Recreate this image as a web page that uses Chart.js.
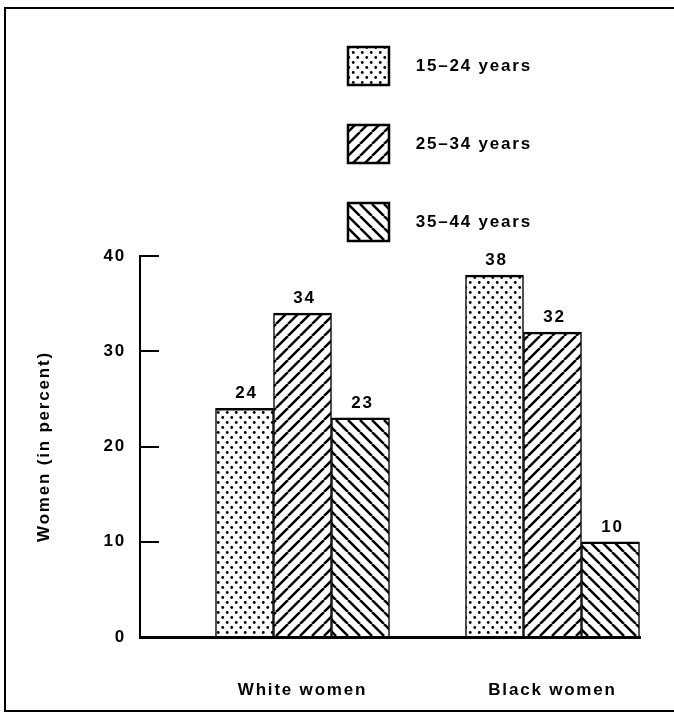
<!DOCTYPE html>
<html>
<head>
<meta charset="utf-8">
<script src="https://cdn.jsdelivr.net/npm/chart.js@4/dist/chart.umd.min.js"></script>
<style>
  html, body { margin: 0; padding: 0; background: #fff; }
  #wrap { width: 674px; height: 713px; }
</style>
</head>
<body>
<div id="wrap"><canvas id="c" width="674" height="713"></canvas></div>
<script>
// ---- data ----
const categories = ['White women', 'Black women'];
const seriesLabels = ['15\u201324 years', '25\u201334 years', '35\u201344 years'];
const ages15to24 = [24, 38];
const ages25to34 = [34, 32];
const ages35to44 = [23, 10];
const yTicks = [0, 10, 20, 30, 40];
const yTitle = 'Women (in percent)';

// ---- patterns ----
const canvas = document.getElementById('c');
const mainCtx = canvas.getContext('2d');

function dotPattern() {
  const w = 9, h = 10;
  const t = document.createElement('canvas');
  t.width = w; t.height = h;
  const x = t.getContext('2d');
  x.fillStyle = '#fff'; x.fillRect(0, 0, w, h);
  x.fillStyle = '#000';
  [[2.25, 2.5], [6.75, 7.5]].forEach(([a, b]) => { x.beginPath(); x.arc(a, b, 1.4, 0, Math.PI * 2); x.fill(); });
  return mainCtx.createPattern(t, 'repeat');
}
function hatchPattern(forward) {
  const s = 12;
  const t = document.createElement('canvas');
  t.width = s; t.height = s;
  const x = t.getContext('2d');
  x.fillStyle = '#fff'; x.fillRect(0, 0, s, s);
  x.strokeStyle = '#000'; x.lineWidth = 2.5;
  x.beginPath();
  for (const k of [-s, 0, s]) {
    if (forward) { x.moveTo(k, s); x.lineTo(k + s, 0); }
    else { x.moveTo(k, 0); x.lineTo(k + s, s); }
  }
  x.stroke();
  return mainCtx.createPattern(t, 'repeat');
}
const fills = [dotPattern(), hatchPattern(true), hatchPattern(false)];
const seriesValues = [ages15to24, ages25to34, ages35to44];

const LS = '1.8px';
function setSpacing(chart) { if ('letterSpacing' in chart.ctx) chart.ctx.letterSpacing = LS; }

const frame = {
  id: 'frame',
  beforeUpdate(chart) { setSpacing(chart); },
  beforeLayout(chart) { setSpacing(chart); },
  beforeDraw(chart) {
    setSpacing(chart);
    const c = chart.ctx;
    c.save();
    c.fillStyle = '#fff'; c.fillRect(0, 0, chart.width, chart.height);
    c.strokeStyle = '#000'; c.lineWidth = 2;
    c.beginPath();
    c.moveTo(674, 8); c.lineTo(5, 8); c.lineTo(5, 711); c.lineTo(674, 711);
    c.stroke();
    c.restore();
  }
};

const legendPlacer = {
  id: 'legendPlacer',
  afterLayout(chart) {
    const lg = chart.legend; if (!lg) return;
    const pad = lg.options.labels.padding;
    lg.left = 348 - pad; lg.top = 47 - pad; lg.right = 532; lg.bottom = 713;
    lg.width = lg.right - lg.left; lg.height = lg.bottom - lg.top;
  }
};

const FONT = '"Liberation Sans", Arial, sans-serif';
const FS = 17;

const valueLabels = {
  id: 'valueLabels',
  afterDatasetsDraw(chart) {
    const c = chart.ctx;
    c.save();
    c.font = 'bold ' + FS + 'px ' + FONT;
    c.fillStyle = '#000'; c.textAlign = 'center'; c.textBaseline = 'alphabetic';
    chart.data.datasets.forEach((ds, di) => {
      chart.getDatasetMeta(di).data.forEach((el, i) => {
        c.fillText(String(ds.data[i].y), el.x + 2, el.y - 10);
      });
    });
    c.restore();
  }
};

Chart.defaults.font.family = FONT;
Chart.defaults.font.size = FS;
Chart.defaults.font.weight = 'bold';
Chart.defaults.color = '#000';

new Chart(canvas, {
  type: 'bar',
  data: {
    datasets: seriesLabels.map((lab, si) => ({
      label: lab,
      data: seriesValues[si].map((v, i) => ({ x: i + 1, y: v })),
      backgroundColor: fills[si],
      borderColor: '#000',
      borderWidth: { top: 2.5, left: 1.5, right: 1.5, bottom: 0 },
      borderSkipped: 'start',
      barThickness: 58
    }))
  },
  options: {
    responsive: false,
    animation: false,
    devicePixelRatio: 1,
    layout: { padding: { top: 256, right: 34, bottom: 14, left: 0 } },
    plugins: {
      legend: {
        position: 'chartArea',
        align: 'start',
        labels: {
          boxWidth: 41, boxHeight: 38, padding: 40,
          textAlign: 'right',
          font: { size: FS, weight: 'bold' },
          generateLabels: (chart) => Chart.defaults.plugins.legend.labels.generateLabels(chart)
            .map(l => Object.assign(l, { lineWidth: 2.5, strokeStyle: '#000' }))
        }
      },
      tooltip: { enabled: false }
    },
    scales: {
      x: {
        type: 'linear',
        min: 0.35, max: 2.35,
        offset: false,
        grid: { display: false, drawTicks: false },
        border: { display: true, color: '#000', width: 3 },
        afterBuildTicks: (scale) => { scale.ticks = categories.map((_, i) => ({ value: i + 1 })); },
        ticks: {
          autoSkip: false,
          padding: 43,
          font: { size: FS, weight: 'bold' },
          callback: (v) => categories[v - 1] || ''
        },
        afterFit: (scale) => { scale.height = 62; }
      },
      y: {
        min: 0, max: 40,
        afterBuildTicks: (scale) => { scale.ticks = yTicks.map(v => ({ value: v })); },
        grid: { display: true, drawOnChartArea: false, drawTicks: true, tickLength: -19, color: '#000', lineWidth: 2 },
        border: { display: true, color: '#000', width: 2 },
        ticks: { padding: 33, font: { size: FS, weight: 'bold' }, callback: (v) => String(v) },
        title: { display: true, text: yTitle, font: { size: FS, weight: 'bold' }, padding: { top: 34, bottom: 0 } },
        afterFit: (scale) => { scale.width = 140; }
      }
    }
  },
  plugins: [frame, legendPlacer, valueLabels]
});
</script>
</body>
</html>
